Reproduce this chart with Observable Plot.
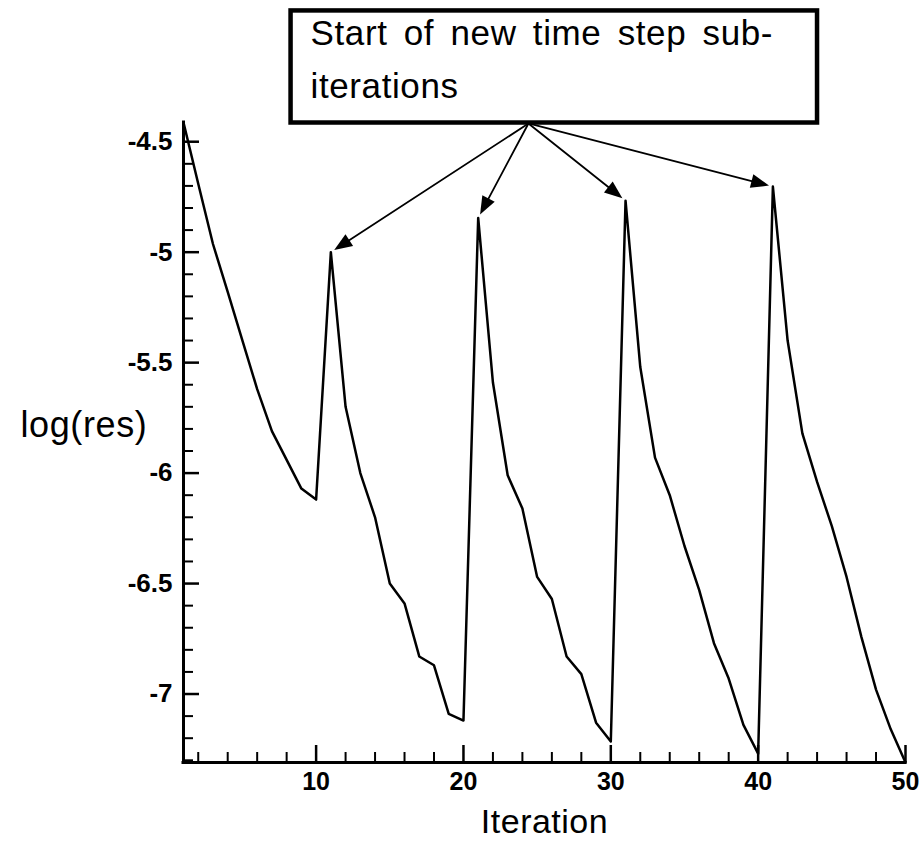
<!DOCTYPE html>
<html>
<head>
<meta charset="utf-8">
<script src="https://cdn.jsdelivr.net/npm/d3@7"></script>
<script src="https://cdn.jsdelivr.net/npm/@observablehq/plot@0.6"></script>
<style>
  html, body { margin: 0; padding: 0; background: #fff; }
  #chart { width: 923px; height: 859px; }
</style>
</head>
<body>
<div id="chart"></div>
<script>
// Residual history: one value of log(res) per sub-iteration.
const iterations = [
  1, 2, 3, 4, 5, 6, 7, 8, 9, 10,
  11, 12, 13, 14, 15, 16, 17, 18, 19, 20,
  21, 22, 23, 24, 25, 26, 27, 28, 29, 30,
  31, 32, 33, 34, 35, 36, 37, 38, 39, 40,
  41, 42, 43, 44, 45, 46, 47, 48, 49, 50
];
const logRes = [
  -4.413, -4.69, -4.963, -5.18, -5.40, -5.62, -5.81, -5.94, -6.07, -6.12,
  -5.00, -5.70, -6.00, -6.20, -6.50, -6.59, -6.83, -6.87, -7.09, -7.12,
  -4.845, -5.59, -6.01, -6.16, -6.47, -6.57, -6.83, -6.91, -7.13, -7.215,
  -4.767, -5.52, -5.93, -6.10, -6.33, -6.53, -6.77, -6.93, -7.14, -7.27,
  -4.703, -5.40, -5.82, -6.04, -6.24, -6.47, -6.74, -6.98, -7.16, -7.31
];

// Axis ticks
const xMajorTicks = [10, 20, 30, 40, 50];
const xMinorTicks = [2, 4, 6, 8, 12, 14, 16, 18, 22, 24, 26, 28, 32, 34, 36, 38, 42, 44, 46, 48];
const yMajorTicks = [-7, -6.5, -6, -5.5, -5, -4.5];
const yMinorTicks = [
  -7.3, -7.2, -7.1, -6.9, -6.8, -6.7, -6.6, -6.4, -6.3, -6.2, -6.1,
  -5.9, -5.8, -5.7, -5.6, -5.4, -5.3, -5.2, -5.1, -4.9, -4.8, -4.7, -4.6
];

// Callout: box and the point its arrows leave from (in iteration / log(res) units)
const calloutText = "Start of new time step sub-\niterations";
const calloutBox = {x1: 8.3, x2: 44.03, y1: -4.4153, y2: -3.908};
const calloutAnchor = {iteration: 24.41, value: -4.4175};

const data = iterations.map((it, i) => ({iteration: it, value: logRes[i]}));
// each new time step starts where the residual jumps back up
const peaks = data.filter((d, i) => i > 0 && d.value > data[i - 1].value);

const xMin = d3.min(iterations);
const yMin = d3.min(logRes);
const font = "Arial, 'Liberation Sans', Helvetica, sans-serif";

// page layout
const width = 923, height = 859;
const margin = {top: 122, right: 18, bottom: 97, left: 183};
const frameWidth = width - margin.left - margin.right;
const frameHeight = height - margin.top - margin.bottom;
const majorTick = 17, minorTick = 10;

// filled triangular arrow head, tip a few pixels short of the target point
function arrowHead(color, context) {
  const doc = (context && context.document) || document;
  const ns = "http://www.w3.org/2000/svg";
  const marker = doc.createElementNS(ns, "marker");
  marker.setAttribute("viewBox", "-22 -9 28 18");
  marker.setAttribute("markerWidth", 28);
  marker.setAttribute("markerHeight", 18);
  marker.setAttribute("markerUnits", "userSpaceOnUse");
  marker.setAttribute("refX", 4);
  marker.setAttribute("refY", 0);
  marker.setAttribute("orient", "auto");
  marker.setAttribute("overflow", "visible");
  const path = doc.createElementNS(ns, "path");
  path.setAttribute("d", "M0,0L-18,-7L-18,7Z");
  path.setAttribute("fill", color);
  path.setAttribute("stroke", "none");
  marker.appendChild(path);
  return marker;
}

const chart = Plot.plot({
  width,
  height,
  marginLeft: margin.left,
  marginRight: margin.right,
  marginTop: margin.top,
  marginBottom: margin.bottom,
  style: {fontFamily: font, background: "white", color: "black", overflow: "visible"},
  x: {domain: [1, 50]},
  y: {domain: d3.extent(logRes)},
  marks: [
    // tick labels
    Plot.axisX({ticks: xMajorTicks, tickSize: 0, tickPadding: 10,
      fontSize: 25, fontWeight: "bold", tickFormat: String, label: null}),
    Plot.axisY({ticks: yMajorTicks, tickSize: 0, tickPadding: 11,
      fontSize: 26, fontWeight: "bold", tickFormat: String, label: null}),
    // inward-pointing ticks
    Plot.tickX(xMinorTicks, {x: d => d, insetTop: frameHeight - minorTick, stroke: "black", strokeWidth: 2}),
    Plot.tickX(xMajorTicks, {x: d => d, insetTop: frameHeight - majorTick, stroke: "black", strokeWidth: 2.5}),
    Plot.tickY(yMinorTicks, {y: d => d, insetRight: frameWidth - minorTick, stroke: "black", strokeWidth: 2}),
    Plot.tickY(yMajorTicks, {y: d => d, insetRight: frameWidth - (majorTick - 1), stroke: "black", strokeWidth: 2.5}),
    // axis lines
    Plot.ruleX([xMin], {strokeWidth: 3, strokeLinecap: "square"}),
    Plot.ruleY([yMin], {strokeWidth: 3, strokeLinecap: "square"}),
    // residual curve
    Plot.line(data, {x: "iteration", y: "value", stroke: "black", strokeWidth: 2.5}),
    // axis titles
    Plot.text(["log(res)"], {frameAnchor: "left", dx: -163, dy: -17, textAnchor: "start", fontSize: 36}),
    Plot.text(["Iteration"], {frameAnchor: "bottom", dy: 70, fontSize: 34}),
    // callout box
    Plot.rect([calloutBox], {x1: "x1", x2: "x2", y1: "y1", y2: "y2", fill: "white", stroke: "black", strokeWidth: 4.5}),
    Plot.text([calloutBox], {x: "x1", y: "y2", text: () => calloutText, textAnchor: "start", lineAnchor: "middle",
      dx: 19.5, dy: 44, fontSize: 35, lineHeight: 1.5}),
    // arrows from the callout to each peak
    Plot.arrow(peaks, {x1: () => calloutAnchor.iteration, y1: () => calloutAnchor.value, x2: "iteration", y2: "value",
      headLength: 0, insetEnd: 10, stroke: "black", strokeWidth: 1.8}),
    Plot.link(peaks, {x1: () => calloutAnchor.iteration, y1: () => calloutAnchor.value, x2: "iteration", y2: "value",
      stroke: "black", strokeOpacity: 0, markerEnd: arrowHead})
  ]
});

// looser glyph spacing on the large titles and callout text
d3.select(chart).selectAll("text").each(function () {
  const fs = parseFloat(this.getAttribute("font-size") || d3.select(this.parentNode).attr("font-size"));
  if (fs >= 35) d3.select(this).style("letter-spacing", "0.6px").style("word-spacing", "6px");
  else if (fs >= 34) d3.select(this).style("letter-spacing", "0.5px");
});

document.getElementById("chart").appendChild(chart);
</script>
</body>
</html>
